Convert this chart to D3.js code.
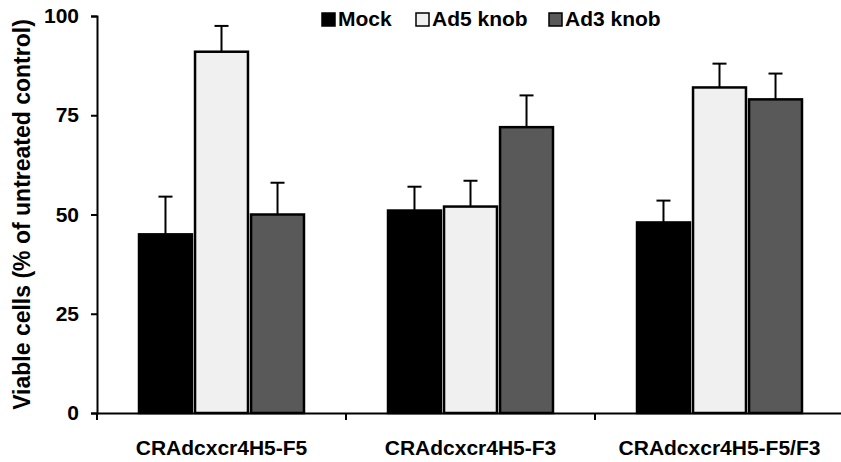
<!DOCTYPE html>
<html lang="en">
<head>
<meta charset="UTF-8">
<title>Viable cells</title>
<script src="https://d3js.org/d3.v7.min.js"></script>
<style>
  body { margin: 0; background: #fff; }
  svg text { font-family: "Liberation Sans", Arial, sans-serif; font-weight: bold; }
</style>
</head>
<body>
<script>
// data
const categories = ["CRAdcxcr4H5-F5", "CRAdcxcr4H5-F3", "CRAdcxcr4H5-F5/F3"];
const seriesNames = ["Mock", "Ad5 knob", "Ad3 knob"];
const mockVals = [45, 51, 48];
const ad5Vals = [91, 52, 82];
const ad3Vals = [50, 72, 79];
const mockErr = [9.5, 6, 5.5];
const ad5Err = [6.5, 6.5, 6];
const ad3Err = [8, 8, 6.5];
const yTicks = [0, 25, 50, 75, 100];
const colors = ["#000000", "#f0f0f0", "#595959"];

const values = [mockVals, ad5Vals, ad3Vals];
const errs = [mockErr, ad5Err, ad3Err];

const width = 841, height = 462;
const mLeft = 97, mRight = 844, mTop = 16, mBottom = 413;

const svg = d3.select("body").append("svg")
    .attr("width", width)
    .attr("height", height);

const x = d3.scaleBand().domain(categories).range([mLeft, mRight]);
const xs = d3.scaleBand().domain(seriesNames).range([0, x.bandwidth()]).paddingInner(0.055).paddingOuter(0.75);
const y = d3.scaleLinear().domain([0, 100]).range([mBottom, mTop]);

// bars
const rows = [];
categories.forEach((c, i) => {
  seriesNames.forEach((s, j) => {
    rows.push({cat: c, ser: s, v: values[j][i], e: errs[j][i], col: colors[j]});
  });
});

const g = svg.append("g");

// error bars (upward only)
g.selectAll("line.err")
  .data(rows)
  .enter().append("line")
    .attr("x1", d => x(d.cat) + xs(d.ser) + xs.bandwidth() / 2)
    .attr("x2", d => x(d.cat) + xs(d.ser) + xs.bandwidth() / 2)
    .attr("y1", d => y(d.v))
    .attr("y2", d => y(d.v + d.e))
    .attr("stroke", "#000")
    .attr("stroke-width", 2);
g.selectAll("line.cap")
  .data(rows)
  .enter().append("line")
    .attr("x1", d => x(d.cat) + xs(d.ser) + xs.bandwidth() / 2 - 7)
    .attr("x2", d => x(d.cat) + xs(d.ser) + xs.bandwidth() / 2 + 7)
    .attr("y1", d => y(d.v + d.e))
    .attr("y2", d => y(d.v + d.e))
    .attr("stroke", "#000")
    .attr("stroke-width", 2);

g.selectAll("rect")
  .data(rows)
  .enter().append("rect")
    .attr("x", d => x(d.cat) + xs(d.ser))
    .attr("y", d => y(d.v))
    .attr("width", xs.bandwidth())
    .attr("height", d => y(0) - y(d.v))
    .attr("fill", d => d.col)
    .attr("stroke", "#000")
    .attr("stroke-width", 2.5);

// y axis
const yAxis = svg.append("g")
    .attr("transform", `translate(${mLeft},0)`)
    .call(d3.axisLeft(y).tickValues(yTicks).tickSize(6).tickPadding(12));
yAxis.select(".domain").attr("stroke-width", 2);
yAxis.selectAll(".tick line").attr("stroke-width", 2);
yAxis.selectAll(".tick text").attr("font-size", 21).attr("fill", "#000");

// x axis
const xAxis = svg.append("g")
    .attr("transform", `translate(0,${mBottom})`)
    .call(d3.axisBottom(x).tickSize(0).tickPadding(27));
xAxis.select(".domain").attr("stroke-width", 2);
xAxis.selectAll(".tick text").attr("font-size", 21).attr("fill", "#000");
xAxis.selectAll("line.cb")
  .data(categories)
  .enter().append("line")
    .attr("x1", d => x(d)).attr("x2", d => x(d))
    .attr("y1", 0).attr("y2", 7)
    .attr("stroke", "#000").attr("stroke-width", 2);

// y label
svg.append("text")
    .attr("transform", `translate(24,${(mTop + mBottom) / 2}) rotate(-90)`)
    .attr("text-anchor", "middle")
    .attr("dominant-baseline", "middle")
    .attr("font-size", 23)
    .text("Viable cells (% of untreated control)");

// legend
const legendX = [321, 415, 548];
const lg = svg.append("g");
seriesNames.forEach((s, j) => {
  lg.append("rect")
    .attr("x", legendX[j] + 1).attr("y", 13)
    .attr("width", 13).attr("height", 13)
    .attr("fill", colors[j]).attr("stroke", "#000").attr("stroke-width", 1.5);
  lg.append("text")
    .attr("x", legendX[j] + 17).attr("y", 26)
    .attr("font-size", 21)
    .text(s);
});
</script>
</body>
</html>
